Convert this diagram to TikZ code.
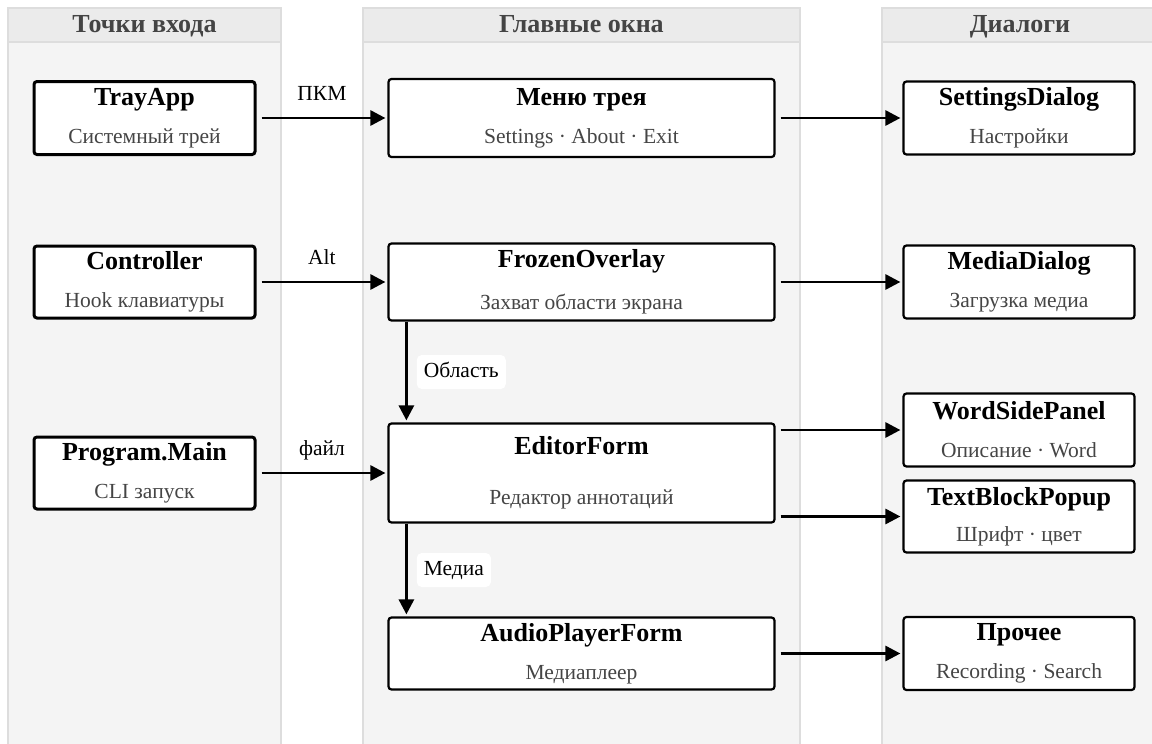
\documentclass[tikz,border=0pt]{standalone}
\usepackage{fontspec}
\setmainfont{Liberation Serif}
\usetikzlibrary{arrows.meta,calc}
\definecolor{lanefill}{HTML}{F4F4F4}
\definecolor{laneedge}{HTML}{DDDDDD}
\definecolor{headfill}{HTML}{EBEBEB}
\definecolor{headtext}{HTML}{444444}
\definecolor{subtext}{HTML}{454545}
% two-line window caption: bold name, grey description
\newcommand{\wincap}[3]{{\fontsize{26}{30}\selectfont\bfseries #1}\\[#3]\textcolor{subtext}{#2}}
\begin{document}
\begin{tikzpicture}[x=1pt,y=-1pt,
  lane/.style={fill=lanefill, draw=laneedge, line width=1.5pt},
  lanehead/.style={fill=headfill, draw=laneedge, line width=1.5pt},
  headlabel/.style={font=\fontsize{26}{30}\selectfont\bfseries, text=headtext,
    text height=18pt, text depth=5pt, inner sep=0pt},
  win/.style={draw=black, fill=white, line width=2.2pt, rounded corners=3pt,
    align=center, inner sep=0pt, font=\fontsize{21.5}{32}\selectfont},
  entry/.style={win, line width=3pt},
  flow/.style={line width=2.8pt, -{Triangle[length=15pt,width=15pt]},
    shorten <=5pt, shorten >=2pt},
  down/.style={line width=2.8pt, -{Triangle[length=15pt,width=15pt]},
    shorten >=2pt},
  flowlabel/.style={font=\fontsize{21.5}{24}\selectfont, text height=14pt,
    text depth=4pt, inner sep=0pt},
  tag/.style={flowlabel, fill=white, rounded corners=5pt, inner xsep=7pt,
    inner ysep=8pt},
]
\useasboundingbox (0,0) rectangle (1152,744);
\clip (0,0) rectangle (1152,744);

% swimlanes
\draw[lane] (8,8) rectangle (281,760);
\draw[lane] (363,8) rectangle (800,760);
\draw[lane] (882,8) rectangle (1160,760);
\draw[lanehead] (8,8) rectangle (281,42);
\draw[lanehead] (363,8) rectangle (800,42);
\draw[lanehead] (882,8) rectangle (1160,42);
\node[headlabel] (h1) at (144.5,25.5) {Точки входа};
\node[headlabel] (h2) at (581.5,25.5) {Главные окна};
\node[headlabel] (h3) at (1020,25.5) {Диалоги};

% entry points
\node[entry, minimum width=221, minimum height=73] (tray) at (144.5,118)
  {\wincap{TrayApp}{Системный трей}{6pt}};
\node[entry, minimum width=221, minimum height=72] (ctrl) at (144.5,282)
  {\wincap{Controller}{Hook клавиатуры}{6pt}};
\node[entry, minimum width=221, minimum height=72] (prog) at (144.5,473)
  {\wincap{Program.Main}{CLI запуск}{6pt}};

% main windows
\node[win, minimum width=386, minimum height=78] (menu) at (581.5,118)
  {\wincap{Меню трея}{Settings · About · Exit}{6pt}};
\node[win, minimum width=386, minimum height=77] (frozen) at (581.5,282)
  {\wincap{FrozenOverlay}{Захват области экрана}{10pt}};
\node[win, minimum width=386, minimum height=99] (editor) at (581.5,473)
  {\wincap{EditorForm}{Редактор аннотаций}{18pt}};
\node[win, minimum width=386, minimum height=72] (audio) at (581.5,653.5)
  {\wincap{AudioPlayerForm}{Медиаплеер}{6pt}};

% dialogs
\node[win, minimum width=231, minimum height=73] (settings) at (1019,118)
  {\wincap{SettingsDialog}{Настройки}{6pt}};
\node[win, minimum width=231, minimum height=73] (media) at (1019,282)
  {\wincap{MediaDialog}{Загрузка медиа}{6pt}};
\node[win, minimum width=231, minimum height=73] (wsp) at (1019,430)
  {\wincap{WordSidePanel}{Описание · Word}{6pt}};
\node[win, minimum width=231, minimum height=72] (tbp) at (1019,516.5)
  {\wincap{TextBlockPopup}{Шрифт · цвет}{4pt}};
\node[win, minimum width=231, minimum height=73] (other) at (1019,653.5)
  {\wincap{Прочее}{Recording · Search}{6pt}};

% entry -> main
\draw[flow] (tray) -- node[flowlabel, yshift=23pt] (l1) {ПКМ} (menu);
\draw[flow] (ctrl) -- node[flowlabel, yshift=23pt] (l2) {Alt} (frozen);
\draw[flow] (prog) -- node[flowlabel, yshift=23pt] (l3) {файл} (editor);

% main -> dialogs
\draw[flow] (menu) -- (settings);
\draw[flow] (frozen) -- (media);
\draw[flow] (editor.east |- wsp.west) -- (wsp.west);
\draw[flow] (editor.east |- tbp.west) -- (tbp.west);
\draw[flow] (audio) -- (other);

% main window chain
\coordinate (fs) at ([xshift=19pt]frozen.south west);
\coordinate (en) at ([xshift=19pt]editor.north west);
\coordinate (es) at ([xshift=19pt]editor.south west);
\coordinate (an) at ([xshift=19pt]audio.north west);
\draw[down] (fs) -- node[tag, anchor=west, xshift=9pt] (l4) {Область} (en);
\draw[down] (es) -- node[tag, anchor=west, xshift=9pt] (l5) {Медиа} (an);
\end{tikzpicture}
\end{document}
